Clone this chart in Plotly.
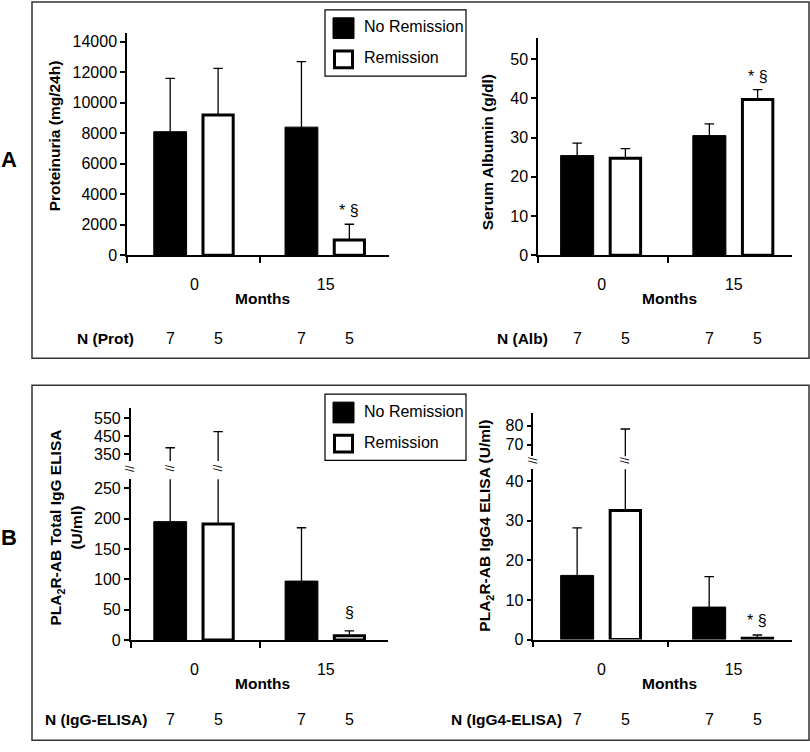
import plotly.graph_objects as go

W, H = 810, 752
FONT = "Liberation Sans, Arial, Helvetica, sans-serif"

# ---- values ----
months = ["0", "15"]
series = ["No Remission", "Remission"]

prot_norem = [8100, 8400]
prot_norem_sd = [3500, 4300]
prot_rem = [9200, 1000]
prot_rem_sd = [3050, 1030]

alb_norem = [25.4, 30.5]
alb_norem_sd = [3.2, 3.0]
alb_rem = [24.7, 39.7]
alb_rem_sd = [2.5, 2.5]

igg_norem = [195, 97]
igg_norem_sd = [190, 88]
igg_rem = [191, 7]
igg_rem_sd = [284, 8]

igg4_norem = [16.2, 8.2]
igg4_norem_sd = [12.0, 7.7]
igg4_rem = [32.6, 0.3]
igg4_rem_sd = [45.7, 0.85]

n_norem = [7, 7]
n_rem = [5, 5]


def fx(p):
    return p / W


def fy(p):
    return 1 - p / H


OFF = {"No Remission": -0.185, "Remission": 0.18}
BAR_W = {"No Remission": 0.25, "Remission": 0.23}
CAP = 0.036


def bar_x(name):
    return [i + OFF[name] for i in range(len(months))]


def err_path(xs, means, sds):
    px, py = [], []
    for x, m, s in zip(xs, means, sds):
        top = m + s
        px += [x, x, None, x - CAP, x + CAP, None]
        py += [m, top, None, top, top, None]
    return px, py


fig = go.Figure()

# panel layout (pixel positions)
panels = [
    dict(k=1, xpx=(127, 389), xr=(-0.514, 1.482), ylo=(258.3, 33), ylor=(0, 14600),
         ylot=list(range(0, 14001, 2000)), up=None,
         data=(prot_norem, prot_norem_sd, prot_rem, prot_rem_sd),
         title="Proteinuria (mg/24h)", tx=54, ty=138, sig="* §", sigshift=3,
         nlab="N (Prot)", nx=105, ny=343, mx=262, my=302),
    dict(k=2, xpx=(538, 792), xr=(-0.481, 1.44), ylo=(258.3, 38), ylor=(0, 55.5),
         ylot=[0, 10, 20, 30, 40, 50], up=None,
         data=(alb_norem, alb_norem_sd, alb_rem, alb_rem_sd),
         title="Serum Albumin (g/dl)", tx=487, ty=154, sig="* §", sigshift=3,
         nlab="N (Alb)", nx=522, ny=343, mx=669, my=302),
    dict(k=3, xpx=(130.7, 388), xr=(-0.486, 1.474), ylo=(647.7, 485), ylor=(0, 265),
         ylot=[0, 50, 100, 150, 200, 250],
         up=dict(k=5, ypx=(466.7, 412.7), yr=(310, 609), tv=[350, 450, 550], brk=474),
         data=(igg_norem, igg_norem_sd, igg_rem, igg_rem_sd),
         title="PLA<sub>2</sub>R-AB Total IgG ELISA<br>(U/ml)", tx=66, ty=534, sig="§", sigshift=8,
         nlab="N (IgG-ELISA)", nx=96, ny=728, mx=262, my=692),
    dict(k=4, xpx=(533.3, 791.7), xr=(-0.517, 1.44), ylo=(647.3, 475), ylor=(0, 43),
         ylot=[0, 10, 20, 30, 40],
         up=dict(k=6, ypx=(461.7, 417.7), yr=(63.8, 87), tv=[70, 80], brk=466),
         data=(igg4_norem, igg4_norem_sd, igg4_rem, igg4_rem_sd),
         title="PLA<sub>2</sub>R-AB IgG4 ELISA (U/ml)", tx=486, ty=532, sig="* §", sigshift=4,
         nlab="N (IgG4-ELISA)", nx=506, ny=728, mx=669, my=692),
]

tickfont = dict(family=FONT, size=16, color="black")
boldfont = dict(family=FONT, size=15.5, color="black")
annotations = []
shapes = []
axes = {}


def axname(letter, k):
    return f"{letter}axis" if k == 1 else f"{letter}axis{k}"


def ref(letter, k):
    return letter if k == 1 else f"{letter}{k}"


def label(x, y, text, font, xref="paper", yref="paper", **kw):
    d = dict(x=x, y=y, xref=xref, yref=yref, text=text, showarrow=False,
             xanchor="center", yanchor="middle", font=font)
    d.update(kw)
    annotations.append(d)


yaxis_common = dict(showline=True, linecolor="black", linewidth=1.5, ticks="outside",
                    ticklen=5, tickwidth=1.5, tickcolor="black", showgrid=False,
                    zeroline=False, tickfont=tickfont, tickmode="array", tickformat="d")

for p in panels:
    k = p["k"]
    xr, yr = ref("x", k), ref("y", k)
    norem, norem_sd, rem, rem_sd = p["data"]

    axes[axname("x", k)] = dict(
        domain=[fx(p["xpx"][0]), fx(p["xpx"][1])], range=list(p["xr"]), anchor=yr,
        showline=True, linecolor="black", linewidth=1.5, showgrid=False, zeroline=False,
        tickmode="array", tickvals=list(range(len(months))), ticktext=months,
        ticks="", tickfont=tickfont, ticklabelstandoff=14,
        minor=dict(tickmode="array", tickvals=[p["xr"][0], 0.5], ticks="outside",
                   ticklen=6, tickwidth=1.5, tickcolor="black", showgrid=False),
    )
    axes[axname("y", k)] = dict(
        yaxis_common, domain=[fy(p["ylo"][0]), fy(p["ylo"][1])], range=list(p["ylor"]),
        anchor=xr, tickvals=p["ylot"],
    )
    yaxes = [yr]
    if p["up"]:
        u = p["up"]
        axes[axname("y", u["k"])] = dict(
            yaxis_common, domain=[fy(u["ypx"][0]), fy(u["ypx"][1])], range=list(u["yr"]),
            anchor=xr, tickvals=u["tv"],
        )
        yaxes.append(ref("y", u["k"]))

    # bars
    for name, vals in (("No Remission", norem), ("Remission", rem)):
        black = name == "No Remission"
        fig.add_trace(go.Bar(
            x=bar_x(name), y=vals, width=BAR_W[name], name=name, showlegend=False,
            marker=dict(color="black" if black else "white",
                        line=dict(color="black", width=1 if black else 3)),
            xaxis=xr, yaxis=yr, hoverinfo="skip",
        ))
    # error bars (drawn on each y segment, clipped by the subplot)
    for ya in yaxes:
        for name, vals, sds in (("No Remission", norem, norem_sd), ("Remission", rem, rem_sd)):
            ex, ey = err_path(bar_x(name), vals, sds)
            fig.add_trace(go.Scatter(
                x=ex, y=ey, mode="lines", line=dict(color="black", width=1.3),
                showlegend=False, hoverinfo="skip", xaxis=xr, yaxis=ya,
            ))

    # break marks on the axis and on the error bars that cross the break
    if p["up"]:
        brk_y = fy(p["up"]["brk"])
        brkfont = dict(family=FONT, size=12, color="black")
        label(p["xr"][0], brk_y, "//", brkfont, xref=xr, textangle=-90)
        for name, vals, sds in (("No Remission", norem, norem_sd), ("Remission", rem, rem_sd)):
            for x, m, s in zip(bar_x(name), vals, sds):
                if m + s > p["ylor"][1]:
                    label(x, brk_y, "//", brkfont, xref=xr, textangle=-90)

    # significance marker above remission bar at 15 months
    rx = bar_x("Remission")[1]
    label(rx, rem[1] + rem_sd[1], p["sig"], tickfont, xref=xr, yref=yr,
          yanchor="bottom", yshift=p["sigshift"])

    label(fx(p["tx"]), fy(p["ty"]), f"<b>{p['title']}</b>", boldfont, textangle=-90)
    label(fx(p["mx"]), fy(p["my"]), "<b>Months</b>", boldfont)
    label(fx(p["nx"]), fy(p["ny"]), f"<b>{p['nlab']}</b>", boldfont)
    for name, ns in (("No Remission", n_norem), ("Remission", n_rem)):
        for x, n in zip(bar_x(name), ns):
            label(x, fy(p["ny"]), str(n), tickfont, xref=xr)

# panel frames and labels
for (y0, y1, lab, ly) in ((2, 362.7, "A", 161), (390, 749.3, "B", 544)):
    shapes.append(dict(type="rect", xref="paper", yref="paper", x0=fx(32), x1=fx(809),
                       y0=fy(y1), y1=fy(y0), line=dict(color="#333333", width=1.5)))
    label(fx(9), fy(ly), f"<b>{lab}</b>", dict(family=FONT, size=22, color="black"))

# legends (drawn inside each panel)
for top in (10, 399):
    shapes.append(dict(type="rect", xref="paper", yref="paper", x0=fx(325), x1=fx(466),
                       y0=fy(top + 67), y1=fy(top), line=dict(color="black", width=1.2)))
    shapes.append(dict(type="rect", xref="paper", yref="paper", x0=fx(333), x1=fx(354),
                       y0=fy(top + 29), y1=fy(top + 8), fillcolor="black",
                       line=dict(color="black", width=1)))
    shapes.append(dict(type="rect", xref="paper", yref="paper", x0=fx(334.5), x1=fx(352.5),
                       y0=fy(top + 58.5), y1=fy(top + 41.5), fillcolor="white",
                       line=dict(color="black", width=3)))
    for name, dy in zip(series, (17, 48.5)):
        label(fx(362), fy(top + dy), name, dict(family=FONT, size=16, color="black"),
              xanchor="left")

fig.update_layout(
    width=W, height=H, margin=dict(l=0, r=0, t=0, b=0),
    paper_bgcolor="white", plot_bgcolor="rgba(0,0,0,0)",
    barmode="overlay", showlegend=False,
    annotations=annotations, shapes=shapes,
    font=dict(family=FONT, color="black"),
    **axes,
)

fig.write_html(
    "out.html",
    config={"displayModeBar": False},
    post_script="document.body.style.margin = '0'; document.body.style.overflow = 'hidden';",
)
